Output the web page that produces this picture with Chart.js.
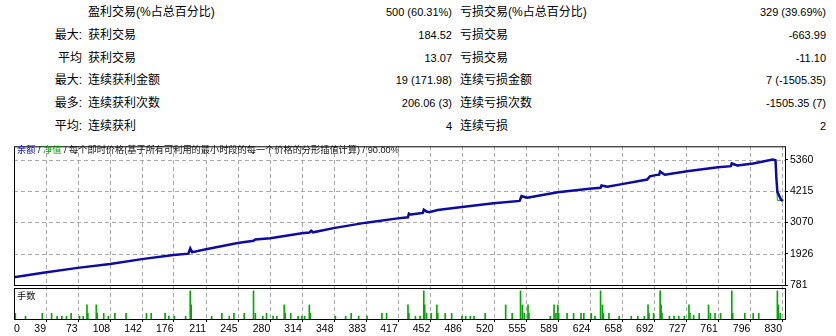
<!DOCTYPE html>
<html>
<head>
<meta charset="utf-8">
<script src="https://cdn.jsdelivr.net/npm/chart.js@4.4.1/dist/chart.umd.min.js"></script>
<style>
  body { margin: 0; background: #fff; width: 836px; height: 336px; overflow: hidden; position: relative;
         font-family: "Liberation Sans", "Noto Sans CJK SC", sans-serif; color: #000; }
  .c { position: absolute; line-height: 16px; white-space: nowrap; font-size: 12px; }
  .num { font-size: 11px; }
  #wrap { position: absolute; left: 0; top: 138px; width: 836px; height: 198px; }
  .tag { position: absolute; font-size: 9.2px; line-height: 12px; white-space: nowrap; color: #111; }
</style>
</head>
<body>
<div id="stats"></div>
<div id="wrap"><canvas id="chart" width="836" height="198"></canvas></div>
<div class="tag" style="left:17px;top:144px"><span style="color:#1010c0">余额</span> / <span style="color:#00a000">净值</span> / 每个即时价格(基于所有可利用的最小时段的每一个价格的分形插值计算) / 90.00%</div>
<div class="tag" style="left:17px;top:290px">手数</div>
<script>
// stats table
const leftPrefixes = ['', '最大:', '平均', '最大:', '最多:', '平均:'];
const leftLabels = ['盈利交易(%占总百分比)', '获利交易', '获利交易', '连续获利金额', '连续获利次数', '连续获利'];
const leftValues = ['500 (60.31%)', '184.52', '13.07', '19 (171.98)', '206.06 (3)', '4'];
const rightLabels = ['亏损交易(%占总百分比)', '亏损交易', '亏损交易', '连续亏损金额', '连续亏损次数', '连续亏损'];
const rightValues = ['329 (39.69%)', '-663.99', '-11.10', '7 (-1505.35)', '-1505.35 (7)', '2'];

// balance / equity curves (trade number -> money)
const balanceTrades = [0, 36, 73, 108, 142, 176, 192, 194, 196, 211, 245, 262, 264, 280, 314, 322, 324, 326, 348, 383, 417,
  428, 429, 431, 441, 444, 445, 448, 451, 460, 486, 520, 548, 550, 556, 589, 623, 635, 636, 642, 658, 685, 688, 694,
  698, 699, 704, 728, 761, 775, 776, 782, 799, 820, 823, 824, 825, 829, 831];
const balance = [1040, 1232, 1409, 1551, 1729, 1881, 1930, 2119, 1985, 2094, 2318, 2400, 2449, 2496, 2673, 2700, 2769, 2710, 2864, 3064, 3220,
  3260, 3397, 3360, 3410, 3420, 3539, 3470, 3443, 3525, 3632, 3774, 3860, 4036, 3976, 4178, 4306, 4340, 4427, 4377, 4473, 4640, 4757, 4803,
  4820, 4934, 4817, 4946, 5088, 5130, 5229, 5158, 5229, 5371, 5350, 4661, 4189, 3900, 3860];
const equityTrades = [0, 36, 73, 108, 142, 176, 192, 194, 196, 211, 245, 262, 264, 280, 314, 322, 324, 326, 348, 383, 417,
  428, 429, 431, 441, 444, 445, 448, 451, 460, 486, 520, 548, 550, 556, 589, 623, 635, 636, 642, 658, 685, 688, 694,
  698, 699, 704, 728, 761, 775, 776, 782, 799, 820, 823, 824, 825, 830, 831];
const equity = [1040, 1232, 1409, 1551, 1729, 1881, 1920, 2080, 1955, 2094, 2318, 2390, 2440, 2496, 2673, 2690, 2740, 2690, 2864, 3064, 3220,
  3250, 3370, 3340, 3410, 3410, 3510, 3440, 3443, 3525, 3632, 3774, 3850, 4000, 3950, 4178, 4306, 4330, 4400, 4360, 4473, 4630, 4740, 4803,
  4810, 4900, 4800, 4946, 5088, 5120, 5200, 5140, 5229, 5371, 5350, 4700, 3880, 3880, 3860];

// lot sizes per trade
const lotTrades = [6, 17, 35, 45, 51, 56, 61, 66, 75, 79, 83, 84, 93, 94, 101, 106, 113, 125, 147, 152, 167, 171, 177, 189,
  194, 195, 217, 228, 236, 241, 252, 262, 264, 272, 276, 283, 287, 295, 296, 302, 310, 314, 317, 322, 323, 350, 361, 367,
  375, 384, 400, 405, 428, 429, 436, 441, 445, 446, 448, 453, 459, 460, 468, 475, 486, 490, 495, 499, 511, 533, 540, 549,
  551, 553, 557, 558, 581, 585, 587, 589, 590, 599, 606, 614, 617, 625, 629, 635, 637, 638, 644, 655, 668, 675, 682, 686,
  687, 692, 699, 700, 701, 709, 714, 719, 725, 730, 731, 735, 741, 751, 753, 758, 764, 776, 777, 790, 799, 805, 825, 826, 828];
const lotSizes = [0.2, 0.1, 0.2, 0.2, 0.1, 0.1, 0.1, 0.2, 0.1, 0.1, 0.5, 0.2, 0.5, 0.2, 0.2, 0.1, 0.2, 0.2, 0.2, 0.2, 0.2, 0.1, 0.1, 0.1,
  1.0, 0.5, 0.1, 0.2, 0.1, 0.2, 0.2, 1.0, 0.2, 0.1, 0.2, 0.1, 0.1, 0.5, 0.2, 0.2, 0.1, 0.1, 0.1, 0.5, 0.2, 0.1, 0.1, 0.2,
  0.1, 0.1, 0.2, 0.2, 0.5, 0.2, 0.1, 0.1, 1.0, 0.5, 0.2, 0.2, 0.5, 0.2, 0.2, 0.2, 0.1, 0.1, 0.1, 0.1, 0.2, 0.5, 0.2, 1.0,
  0.5, 0.2, 0.5, 0.2, 0.1, 0.5, 0.2, 0.5, 0.2, 0.2, 0.2, 0.2, 0.2, 0.2, 0.1, 1.0, 0.5, 0.2, 0.2, 0.1, 0.1, 0.1, 0.1, 0.5,
  0.2, 0.2, 1.0, 0.5, 0.2, 0.1, 0.1, 0.1, 0.1, 0.5, 0.2, 0.13, 0.2, 0.5, 0.2, 0.2, 0.2, 1.0, 0.2, 0.2, 0.2, 0.2, 1.0, 0.5, 0.2];

// axis ticks
const xTickLabels = [0, 39, 73, 108, 142, 176, 211, 245, 280, 314, 348, 383, 417, 452, 486, 520, 555, 589, 624, 658, 692, 727, 761, 796, 830];
const yTickLabels = [781, 1926, 3070, 4215, 5360];

const X_MIN = 4.6, X_MAX = 833.2, ZERO_TICK_AT = 10.8;
const Y_MIN = 781, Y_MAX = 5857;
const LOT_MAX = 1.207;
const BLUE = '#0c0ca4', GREEN = '#00a800', GRID = '#ababab';

// build the stats block
const stats = document.getElementById('stats');
function cell(text, css, cls) {
  const d = document.createElement('div');
  d.className = 'c' + (cls ? ' ' + cls : '');
  d.style.cssText = css;
  d.textContent = text;
  stats.appendChild(d);
}
leftLabels.forEach((lab, i) => {
  const top = 4 + Math.round(i * 22.8);
  cell(leftPrefixes[i], `left:0;width:82px;text-align:right;top:${top}px`);
  cell(lab, `left:88px;top:${top}px`);
  cell(leftValues[i], `left:300px;width:152px;text-align:right;top:${top}px`, 'num');
  cell(rightLabels[i], `left:460px;top:${top}px`);
  cell(rightValues[i], `left:626px;width:200px;text-align:right;top:${top}px`, 'num');
});

Chart.defaults.font.family = '"Liberation Sans", "Noto Sans CJK SC", sans-serif';

// grid (4px dash, 3px gap, as 1px rects), x tick marks and the black frames of the two panes
const framePlugin = {
  id: 'frame',
  beforeDatasetsDraw(chart) {
    const { ctx, chartArea: a, scales: { x, y } } = chart;
    const top = Math.round(a.top), bottom = Math.round(a.bottom);
    const left = Math.round(a.left), right = Math.round(a.right);
    ctx.save();
    ctx.fillStyle = GRID;
    x.ticks.forEach((t, i) => {
      if (i === 0) return;
      const px = Math.round(x.getPixelForTick(i));
      for (let d = top; d < bottom; d += 7) ctx.fillRect(px, d, 1, Math.min(4, bottom - d));
    });
    y.ticks.forEach((t, i) => {
      if (i === 0) return;
      const py = Math.round(y.getPixelForTick(i));
      for (let d = left; d < right; d += 7) ctx.fillRect(d, py, Math.min(4, right - d), 1);
    });
    ctx.fillStyle = '#000';
    x.ticks.forEach((t, i) => {
      if (i === 0) return;
      ctx.fillRect(Math.round(x.getPixelForTick(i)), bottom, 1, 3);
    });
    ctx.restore();
  },
  afterDraw(chart) {
    const { ctx, chartArea: a, scales } = chart;
    const split = Math.round(scales.y.bottom);
    ctx.save();
    ctx.strokeStyle = '#000';
    ctx.lineWidth = 1;
    ctx.strokeRect(a.left + 0.5, a.top + 0.5, a.right - a.left, split - a.top);
    ctx.strokeRect(a.left + 0.5, split + 3.5, a.right - a.left, a.bottom - split - 3);
    ctx.restore();
  }
};

new Chart(document.getElementById('chart'), {
  type: 'line',
  data: {
    datasets: [
      {
        label: '余额',
        data: balanceTrades.map((t, i) => ({ x: t, y: balance[i] })),
        borderColor: BLUE, borderWidth: 2.5, pointRadius: 0, tension: 0, yAxisID: 'y'
      },
      {
        label: '净值',
        data: equityTrades.map((t, i) => ({ x: t, y: equity[i] })),
        borderColor: GREEN, borderWidth: 1, pointRadius: 0, tension: 0, yAxisID: 'y'
      },
      {
        type: 'bar',
        label: '手数',
        data: lotTrades.map((t, i) => ({ x: t, y: lotSizes[i] })),
        backgroundColor: GREEN, barThickness: 1, yAxisID: 'y2'
      }
    ]
  },
  options: {
    responsive: false,
    animation: false,
    devicePixelRatio: 1,
    layout: { padding: { left: 14, top: 3, right: 0, bottom: 0 } },
    plugins: { legend: { display: false }, tooltip: { enabled: false } },
    scales: {
      x: {
        type: 'linear', position: 'bottom', min: X_MIN, max: X_MAX, offset: false,
        afterBuildTicks: s => { s.ticks = xTickLabels.map(v => ({ value: v === 0 ? ZERO_TICK_AT : v })); },
        afterFit: s => { s.height = 17; },
        ticks: {
          autoSkip: false, maxRotation: 0, minRotation: 0, align: 'end', padding: 1,
          color: '#000', font: { size: 10.5 },
          callback: (v, i) => String(xTickLabels[i])
        },
        grid: { display: false, drawTicks: true, tickLength: 3 },
        border: { display: false }
      },
      y: {
        position: 'right', stack: 'panes', stackWeight: 143, min: Y_MIN, max: Y_MAX,
        afterBuildTicks: s => { s.ticks = yTickLabels.map(v => ({ value: v })); },
        afterFit: s => { s.width = 51; },
        ticks: { color: '#000', font: { size: 10.5 }, padding: 2, callback: v => String(v) },
        grid: { display: true, drawOnChartArea: false, drawTicks: true, tickColor: '#000', tickLength: 3, tickBorderDash: [] },
        border: { display: false }
      },
      y2: {
        position: 'right', stack: 'panes', stackWeight: 35, min: 0, max: LOT_MAX,
        afterFit: s => { s.width = 51; },
        ticks: { display: false },
        grid: { display: false },
        border: { display: false }
      }
    }
  },
  plugins: [framePlugin]
});
</script>
</body>
</html>
